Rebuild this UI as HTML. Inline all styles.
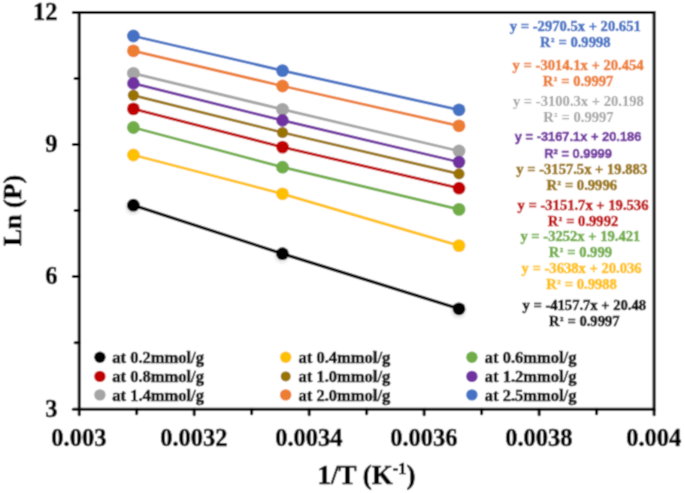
<!DOCTYPE html><html><head><meta charset="utf-8"><style>
html,body{margin:0;padding:0;background:#fff;width:685px;height:493px;overflow:hidden;}
svg{display:block;will-change:transform;}
text{font-family:"Liberation Serif",serif;font-weight:bold;stroke:#000;stroke-width:0.50px;}
.big{stroke-width:0.55px;}
.ss{font-family:"Liberation Sans",sans-serif;font-weight:bold;}
.r{font-weight:normal;}
</style></head><body>
<svg width="685" height="493" viewBox="0 0 685 493">
<defs><filter id="bl" x="0" y="0" width="685" height="493" filterUnits="userSpaceOnUse"><feConvolveMatrix order="3" kernelMatrix="1 2 1 2 8 2 1 2 1" divisor="20" edgeMode="duplicate"/></filter></defs><g filter="url(#bl)">
<defs><filter id="sh" x="-1" y="-1" width="3" height="3"><feGaussianBlur stdDeviation="1.6"/></filter></defs>
<rect x="0" y="0" width="685" height="493" fill="#fff"/>
<polyline points="133.40,205.20 282.50,253.70 459.00,308.80" fill="none" stroke="#000000" stroke-width="3.20" stroke-linejoin="round"/>
<circle cx="132.90" cy="207.00" r="7.5" fill="#000" opacity="0.10" filter="url(#sh)"/>
<circle cx="282.00" cy="255.50" r="7.5" fill="#000" opacity="0.10" filter="url(#sh)"/>
<circle cx="458.50" cy="310.60" r="7.5" fill="#000" opacity="0.10" filter="url(#sh)"/>
<circle cx="133.40" cy="205.20" r="6.40" fill="#000000"/>
<circle cx="282.50" cy="253.70" r="6.40" fill="#000000"/>
<circle cx="459.00" cy="308.80" r="6.40" fill="#000000"/>
<polyline points="133.40,155.00 282.50,193.80 459.00,245.60" fill="none" stroke="#FFC000" stroke-width="2.80" stroke-linejoin="round"/>
<circle cx="133.40" cy="155.00" r="6.40" fill="#FFC000"/>
<circle cx="282.50" cy="193.80" r="6.40" fill="#FFC000"/>
<circle cx="459.00" cy="245.60" r="6.40" fill="#FFC000"/>
<polyline points="133.40,127.50 282.50,167.20 459.00,209.40" fill="none" stroke="#70AD47" stroke-width="2.80" stroke-linejoin="round"/>
<circle cx="133.40" cy="127.50" r="6.40" fill="#70AD47"/>
<circle cx="282.50" cy="167.20" r="6.40" fill="#70AD47"/>
<circle cx="459.00" cy="209.40" r="6.40" fill="#70AD47"/>
<polyline points="133.40,108.90 282.50,147.10 459.00,188.20" fill="none" stroke="#C00000" stroke-width="2.80" stroke-linejoin="round"/>
<circle cx="133.40" cy="108.90" r="6.40" fill="#C00000"/>
<circle cx="282.50" cy="147.10" r="6.40" fill="#C00000"/>
<circle cx="459.00" cy="188.20" r="6.40" fill="#C00000"/>
<polyline points="133.40,95.30 282.50,132.50 459.00,173.90" fill="none" stroke="#997300" stroke-width="2.80" stroke-linejoin="round"/>
<circle cx="133.40" cy="95.30" r="5.60" fill="#997300"/>
<circle cx="282.50" cy="132.50" r="5.60" fill="#997300"/>
<circle cx="459.00" cy="173.90" r="5.60" fill="#997300"/>
<polyline points="133.40,73.30 282.50,109.40 459.00,151.00" fill="none" stroke="#A5A5A5" stroke-width="2.80" stroke-linejoin="round"/>
<circle cx="133.40" cy="73.30" r="6.40" fill="#A5A5A5"/>
<circle cx="282.50" cy="109.40" r="6.40" fill="#A5A5A5"/>
<circle cx="459.00" cy="151.00" r="6.40" fill="#A5A5A5"/>
<polyline points="133.40,83.40 282.50,120.40 459.00,162.00" fill="none" stroke="#7030A0" stroke-width="2.80" stroke-linejoin="round"/>
<circle cx="133.40" cy="83.40" r="6.30" fill="#7030A0"/>
<circle cx="282.50" cy="120.40" r="6.30" fill="#7030A0"/>
<circle cx="459.00" cy="162.00" r="6.30" fill="#7030A0"/>
<polyline points="133.40,50.80 282.50,86.00 459.00,125.80" fill="none" stroke="#ED7D31" stroke-width="2.80" stroke-linejoin="round"/>
<circle cx="133.40" cy="50.80" r="6.40" fill="#ED7D31"/>
<circle cx="282.50" cy="86.00" r="6.40" fill="#ED7D31"/>
<circle cx="459.00" cy="125.80" r="6.40" fill="#ED7D31"/>
<polyline points="133.40,36.00 282.50,70.60 459.00,109.80" fill="none" stroke="#4472C4" stroke-width="2.80" stroke-linejoin="round"/>
<circle cx="133.40" cy="36.00" r="6.40" fill="#4472C4"/>
<circle cx="282.50" cy="70.60" r="6.40" fill="#4472C4"/>
<circle cx="459.00" cy="109.80" r="6.40" fill="#4472C4"/>
<path d="M79.20 12.60H654.10V409.20H79.20Z" fill="none" stroke="#000" stroke-width="3.00" stroke-linejoin="miter"/>
<line x1="73.30" y1="12.60" x2="79.20" y2="12.60" stroke="#000" stroke-width="3.00" stroke-linecap="round"/>
<line x1="75.10" y1="78.40" x2="79.20" y2="78.40" stroke="#000" stroke-width="3.00" stroke-linecap="round"/>
<line x1="73.30" y1="144.40" x2="79.20" y2="144.40" stroke="#000" stroke-width="3.00" stroke-linecap="round"/>
<line x1="75.10" y1="210.50" x2="79.20" y2="210.50" stroke="#000" stroke-width="3.00" stroke-linecap="round"/>
<line x1="73.30" y1="276.50" x2="79.20" y2="276.50" stroke="#000" stroke-width="3.00" stroke-linecap="round"/>
<line x1="75.10" y1="342.80" x2="79.20" y2="342.80" stroke="#000" stroke-width="3.00" stroke-linecap="round"/>
<line x1="73.30" y1="409.20" x2="79.20" y2="409.20" stroke="#000" stroke-width="3.00" stroke-linecap="round"/>
<line x1="79.20" y1="409.20" x2="79.20" y2="414.80" stroke="#000" stroke-width="3.00" stroke-linecap="round"/>
<line x1="136.69" y1="409.20" x2="136.69" y2="413.70" stroke="#000" stroke-width="3.00" stroke-linecap="round"/>
<line x1="194.18" y1="409.20" x2="194.18" y2="414.80" stroke="#000" stroke-width="3.00" stroke-linecap="round"/>
<line x1="251.67" y1="409.20" x2="251.67" y2="413.70" stroke="#000" stroke-width="3.00" stroke-linecap="round"/>
<line x1="309.16" y1="409.20" x2="309.16" y2="414.80" stroke="#000" stroke-width="3.00" stroke-linecap="round"/>
<line x1="366.65" y1="409.20" x2="366.65" y2="413.70" stroke="#000" stroke-width="3.00" stroke-linecap="round"/>
<line x1="424.14" y1="409.20" x2="424.14" y2="414.80" stroke="#000" stroke-width="3.00" stroke-linecap="round"/>
<line x1="481.63" y1="409.20" x2="481.63" y2="413.70" stroke="#000" stroke-width="3.00" stroke-linecap="round"/>
<line x1="539.12" y1="409.20" x2="539.12" y2="414.80" stroke="#000" stroke-width="3.00" stroke-linecap="round"/>
<line x1="596.61" y1="409.20" x2="596.61" y2="413.70" stroke="#000" stroke-width="3.00" stroke-linecap="round"/>
<line x1="654.10" y1="409.20" x2="654.10" y2="414.80" stroke="#000" stroke-width="3.00" stroke-linecap="round"/>
<text class="big" x="0" y="0" font-size="24.5" text-anchor="end" transform="translate(57.6,19.50) scale(1,1.045)">12</text>
<text class="big" x="0" y="0" font-size="24.5" text-anchor="end" transform="translate(57.6,151.60) scale(1,1.045)">9</text>
<text class="big" x="0" y="0" font-size="24.5" text-anchor="end" transform="translate(57.6,283.70) scale(1,1.045)">6</text>
<text class="big" x="0" y="0" font-size="24.5" text-anchor="end" transform="translate(57.6,416.60) scale(1,1.045)">3</text>
<text class="big" x="0" y="0" font-size="24.5" text-anchor="middle" transform="translate(78.90,445.9) scale(1,1.045)">0.003</text>
<text class="big" x="0" y="0" font-size="24.5" text-anchor="middle" transform="translate(193.88,445.9) scale(1,1.045)">0.0032</text>
<text class="big" x="0" y="0" font-size="24.5" text-anchor="middle" transform="translate(308.86,445.9) scale(1,1.045)">0.0034</text>
<text class="big" x="0" y="0" font-size="24.5" text-anchor="middle" transform="translate(423.84,445.9) scale(1,1.045)">0.0036</text>
<text class="big" x="0" y="0" font-size="24.5" text-anchor="middle" transform="translate(538.82,445.9) scale(1,1.045)">0.0038</text>
<text class="big" x="0" y="0" font-size="24.5" text-anchor="middle" transform="translate(653.80,445.9) scale(1,1.045)">0.004</text>
<text class="big" x="366.6" y="484.2" font-size="27" text-anchor="middle">1/T (K<tspan font-size="16.5" dy="-10.5">-1</tspan><tspan dy="10.5">)</tspan></text>
<text class="big" transform="translate(20.9,210.6) rotate(-90)" font-size="26" text-anchor="middle">Ln (P)</text>
<text x="575.30" y="31.00" font-size="14.6" style="fill:#4472C4;stroke:#4472C4" text-anchor="middle">y = -2970.5x + 20.651</text>
<text x="575.30" y="46.90" font-size="14.6" style="fill:#4472C4;stroke:#4472C4" text-anchor="middle">R<tspan font-size="11.3" dx="0.4" dy="-2.0">²</tspan><tspan dx="0.4" dy="2.0"> = 0.9998</tspan></text>
<text x="578.10" y="69.70" font-size="14.6" style="fill:#ED7D31;stroke:#ED7D31" text-anchor="middle">y = -3014.1x + 20.454</text>
<text x="578.10" y="85.70" font-size="14.6" style="fill:#ED7D31;stroke:#ED7D31" text-anchor="middle">R<tspan font-size="11.3" dx="0.4" dy="-2.0">²</tspan><tspan dx="0.4" dy="2.0"> = 0.9997</tspan></text>
<text x="578.40" y="106.30" font-size="14.6" style="fill:#A5A5A5;stroke:#A5A5A5;stroke-width:0.1px" text-anchor="middle">y = -3100.3x + 20.198</text>
<text x="578.40" y="121.60" font-size="14.6" style="fill:#A5A5A5;stroke:#A5A5A5;stroke-width:0.1px" text-anchor="middle">R<tspan font-size="11.3" dx="0.4" dy="-2.0">²</tspan><tspan dx="0.4" dy="2.0"> = 0.9997</tspan></text>
<text class="ss" x="578.10" y="140.60" font-size="12.6" style="fill:#7030A0;stroke:#7030A0" text-anchor="middle" textLength="126.5" lengthAdjust="spacingAndGlyphs">y = -3167.1x + 20.186</text>
<text class="ss" x="578.10" y="158.00" font-size="12.6" style="fill:#7030A0;stroke:#7030A0" text-anchor="middle" textLength="67.5" lengthAdjust="spacingAndGlyphs">R² = 0.9999</text>
<text x="581.75" y="174.30" font-size="14.6" style="fill:#997300;stroke:#997300" text-anchor="middle">y = -3157.5x + 19.883</text>
<text x="581.75" y="189.90" font-size="14.6" style="fill:#997300;stroke:#997300" text-anchor="middle">R<tspan font-size="11.3" dx="0.4" dy="-2.0">²</tspan><tspan dx="0.4" dy="2.0"> = 0.9996</tspan></text>
<text x="583.00" y="209.70" font-size="14.6" style="fill:#C00000;stroke:#C00000" text-anchor="middle">y = -3151.7x + 19.536</text>
<text x="583.00" y="225.90" font-size="14.6" style="fill:#C00000;stroke:#C00000" text-anchor="middle">R<tspan font-size="11.3" dx="0.4" dy="-2.0">²</tspan><tspan dx="0.4" dy="2.0"> = 0.9992</tspan></text>
<text x="580.40" y="241.30" font-size="14.6" style="fill:#70AD47;stroke:#70AD47" text-anchor="middle">y = -3252x + 19.421</text>
<text x="580.40" y="257.20" font-size="14.6" style="fill:#70AD47;stroke:#70AD47" text-anchor="middle">R<tspan font-size="11.3" dx="0.4" dy="-2.0">²</tspan><tspan dx="0.4" dy="2.0"> = 0.999</tspan></text>
<text x="581.60" y="273.30" font-size="14.6" style="fill:#FFC000;stroke:#FFC000" text-anchor="middle">y = -3638x + 20.036</text>
<text x="581.60" y="289.20" font-size="14.6" style="fill:#FFC000;stroke:#FFC000" text-anchor="middle">R<tspan font-size="11.3" dx="0.4" dy="-2.0">²</tspan><tspan dx="0.4" dy="2.0"> = 0.9988</tspan></text>
<text x="584.30" y="309.60" font-size="14.6" style="fill:#000000;stroke:#000000" text-anchor="middle">y = -4157.7x + 20.48</text>
<text x="584.30" y="325.90" font-size="14.6" style="fill:#000000;stroke:#000000" text-anchor="middle">R<tspan font-size="11.3" dx="0.4" dy="-2.0">²</tspan><tspan dx="0.4" dy="2.0"> = 0.9997</tspan></text>
<circle cx="99.90" cy="357.30" r="5.7" fill="#000000"/>
<text x="112.30" y="363.20" font-size="16.5">at 0.2mmol/g</text>
<circle cx="285.70" cy="357.30" r="5.7" fill="#FFC000"/>
<text x="298.60" y="363.20" font-size="16.5">at 0.4mmol/g</text>
<circle cx="471.90" cy="357.30" r="5.7" fill="#70AD47"/>
<text x="484.80" y="363.20" font-size="16.5">at 0.6mmol/g</text>
<circle cx="99.90" cy="376.40" r="5.7" fill="#C00000"/>
<text x="112.30" y="382.00" font-size="16.5">at 0.8mmol/g</text>
<circle cx="285.70" cy="376.40" r="5.0" fill="#997300"/>
<text x="298.60" y="382.00" font-size="16.5">at 1.0mmol/g</text>
<circle cx="471.90" cy="376.40" r="5.7" fill="#7030A0"/>
<text x="484.80" y="382.00" font-size="16.5">at 1.2mmol/g</text>
<circle cx="99.90" cy="394.90" r="5.7" fill="#A5A5A5"/>
<text x="112.30" y="400.50" font-size="16.5">at 1.4mmol/g</text>
<circle cx="285.70" cy="394.90" r="5.7" fill="#ED7D31"/>
<text x="298.60" y="400.50" font-size="16.5">at 2.0mmol/g</text>
<circle cx="471.90" cy="394.90" r="5.7" fill="#4472C4"/>
<text x="484.80" y="400.50" font-size="16.5">at 2.5mmol/g</text>
</g>
</svg></body></html>
